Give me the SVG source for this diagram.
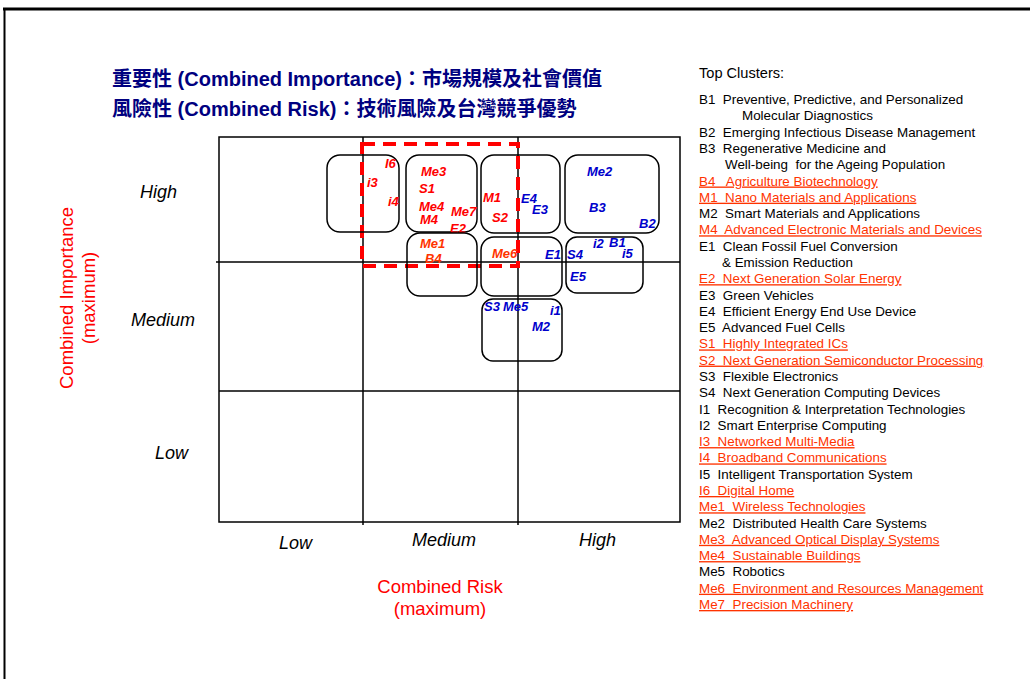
<svg xmlns="http://www.w3.org/2000/svg" width="1030" height="679" viewBox="0 0 1030 679">
<style>
.t{font-family:"Liberation Sans",Arial,"Noto Sans CJK TC",sans-serif;}
.title{font-size:20px;font-weight:bold;fill:#000080;}
.ax{font-size:18px;font-style:italic;fill:#000;}
.axt{font-size:18.5px;fill:#ff0000;}
.lb{font-size:13px;font-weight:bold;font-style:italic;}
.r{fill:#ff0000;}
.o{fill:#ff3300;}
.b{fill:#0000cc;}
.leg{font-size:13.4px;fill:#000;}
.leg text{white-space:pre;}
.lo{fill:#ff3300;text-decoration:underline;}
.box{fill:none;stroke:#000;stroke-width:1.5;}
.grid{stroke:#000;stroke-width:1.5;fill:none;}
</style>
<rect width="1030" height="679" fill="#fff"/>
<g id="frame">
<line x1="3" y1="9" x2="1030" y2="9" stroke="#000" stroke-width="3"/>
<line x1="4.5" y1="8" x2="4.5" y2="679" stroke="#000" stroke-width="2"/>
</g>
<g id="titles" class="t title">
<text x="112" y="86">重要性 (Combined Importance)：市場規模及社會價值</text>
<text x="112" y="116">風險性 (Combined Risk)：技術風險及台灣競爭優勢</text>
</g>
<g id="chart-grid">
<rect x="219" y="137" width="461" height="385" class="grid"/>
<line x1="216" y1="262" x2="680" y2="262" class="grid"/>
<line x1="219" y1="391" x2="680" y2="391" class="grid"/>
<line x1="363" y1="137" x2="363" y2="525" class="grid"/>
<line x1="518" y1="137" x2="518" y2="525" class="grid"/>
</g>
<g id="axis-labels" class="t">
<text class="ax" x="140" y="198">High</text>
<text class="ax" x="131" y="326">Medium</text>
<text class="ax" x="155" y="459">Low</text>
<text class="ax" x="279" y="549">Low</text>
<text class="ax" x="412" y="546">Medium</text>
<text class="ax" x="579" y="546">High</text>
<text class="axt" x="440" y="593" text-anchor="middle">Combined Risk</text>
<text class="axt" x="440" y="615" text-anchor="middle">(maximum)</text>
<text class="axt" transform="translate(73,298) rotate(-90)" text-anchor="middle">Combined Importance</text>
<text class="axt" transform="translate(95,298) rotate(-90)" text-anchor="middle">(maximum)</text>
</g>
<g id="connectors">
<rect x="362" y="144" width="156" height="122" fill="none" stroke="#ff0000" stroke-width="4" stroke-dasharray="13 8"/>
</g>
<g id="node-i" class="t lb">
<rect x="327" y="155" width="72" height="77" rx="13" class="box"/>
<text class="r" x="385" y="168">I6</text>
<text class="r" x="367" y="187">i3</text>
<text class="r" x="388" y="206">i4</text>
</g>
<g id="node-me3" class="t lb">
<rect x="406" y="155" width="71" height="77" rx="13" class="box"/>
<text class="r" x="421" y="176">Me3</text>
<text class="r" x="419" y="193">S1</text>
<text class="r" x="419" y="211">Me4</text>
<text class="r" x="420" y="224">M4</text>
<text class="r" x="451" y="216">Me7</text>
<text class="r" x="450" y="233">E2</text>
</g>
<g id="node-me1" class="t lb">
<rect x="407" y="233" width="70" height="63" rx="13" class="box"/>
<text class="o" x="420" y="248">Me1</text>
<text class="o" x="425" y="263">B4</text>
</g>
<g id="node-m1" class="t lb">
<rect x="481" y="155" width="79" height="78" rx="13" class="box"/>
<text class="r" x="483" y="202">M1</text>
<text class="r" x="492" y="222">S2</text>
<text class="b" x="521" y="203">E4</text>
<text class="b" x="532" y="214">E3</text>
</g>
<g id="node-me6" class="t lb">
<rect x="481" y="237" width="81" height="59" rx="13" class="box"/>
<text class="o" x="492" y="258">Me6</text>
<text class="b" x="545" y="259">E1</text>
</g>
<g id="node-me2" class="t lb">
<rect x="565" y="155" width="94" height="78" rx="13" class="box"/>
<text class="b" x="587" y="176">Me2</text>
<text class="b" x="589" y="212">B3</text>
<text class="b" x="639" y="228">B2</text>
</g>
<g id="node-s4" class="t lb">
<rect x="566" y="237" width="77" height="56" rx="11" class="box"/>
<text class="b" x="567" y="259">S4</text>
<text class="b" x="593" y="248">i2</text>
<text class="b" x="609" y="247">B1</text>
<text class="b" x="622" y="258">i5</text>
<text class="b" x="570" y="281">E5</text>
</g>
<g id="node-s3" class="t lb">
<rect x="482" y="299" width="80" height="62" rx="11" class="box"/>
<text class="b" x="484" y="311">S3</text>
<text class="b" x="503" y="311">Me5</text>
<text class="b" x="550" y="315">i1</text>
<text class="b" x="532" y="331">M2</text>
</g>
<g id="legend" class="t leg">
<text x="699" y="78" style="font-size:14.6px">Top Clusters:</text>
<text x="699" y="104">B1  Preventive, Predictive, and Personalized</text>
<text x="742" y="120.3">Molecular Diagnostics</text>
<text x="699" y="136.6">B2  Emerging Infectious Disease Management</text>
<text x="699" y="152.9">B3  Regenerative Medicine and</text>
<text x="725" y="169.2">Well-being  for the Ageing Population</text>
<text class="lo" x="699" y="185.5">B4   Agriculture Biotechnology</text>
<text class="lo" x="699" y="201.7">M1  Nano Materials and Applications</text>
<text x="699" y="218">M2  Smart Materials and Applications</text>
<text class="lo" x="699" y="234.3">M4  Advanced Electronic Materials and Devices</text>
<text x="699" y="250.6">E1  Clean Fossil Fuel Conversion</text>
<text x="722" y="266.9">&amp; Emission Reduction</text>
<text class="lo" x="699" y="283.2">E2  Next Generation Solar Energy</text>
<text x="699" y="299.5">E3  Green Vehicles</text>
<text x="699" y="315.8">E4  Efficient Energy End Use Device</text>
<text x="699" y="332.1">E5  Advanced Fuel Cells</text>
<text class="lo" x="699" y="348.4">S1  Highly Integrated ICs</text>
<text class="lo" x="699" y="364.6">S2  Next Generation Semiconductor Processing</text>
<text x="699" y="380.9">S3  Flexible Electronics</text>
<text x="699" y="397.2">S4  Next Generation Computing Devices</text>
<text x="699" y="413.5">I1  Recognition &amp; Interpretation Technologies</text>
<text x="699" y="429.8">I2  Smart Enterprise Computing</text>
<text class="lo" x="699" y="446.1">I3  Networked Multi-Media</text>
<text class="lo" x="699" y="462.4">I4  Broadband Communications</text>
<text x="699" y="478.7">I5  Intelligent Transportation System</text>
<text class="lo" x="699" y="495">I6  Digital Home</text>
<text class="lo" x="699" y="511.3">Me1  Wireless Technologies</text>
<text x="699" y="527.5">Me2  Distributed Health Care Systems</text>
<text class="lo" x="699" y="543.8">Me3  Advanced Optical Display Systems</text>
<text class="lo" x="699" y="560.1">Me4  Sustainable Buildings</text>
<text x="699" y="576.4">Me5  Robotics</text>
<text class="lo" x="699" y="592.7">Me6  Environment and Resources Management</text>
<text class="lo" x="699" y="609">Me7  Precision Machinery</text>
</g>
</svg>
